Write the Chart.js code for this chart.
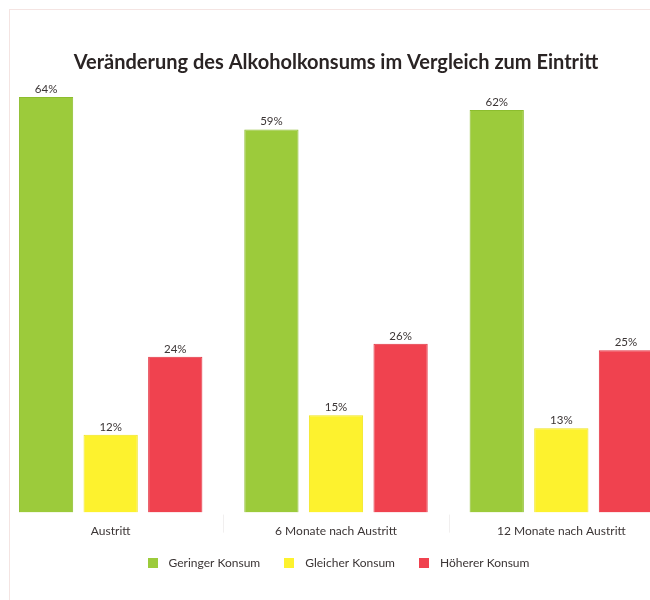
<!DOCTYPE html>
<html>
<head>
<meta charset="utf-8">
<title>Alkoholkonsum</title>
<script src="https://cdn.jsdelivr.net/npm/chart.js@4.4.1/dist/chart.umd.min.js"></script>
<style>
  html, body { margin: 0; padding: 0; background: #fff; overflow: hidden; }
  #frame { position: absolute; left: 9px; top: 9px; width: 660px; height: 600px;
           border-left: 1px solid #f4e4e2; border-top: 1px solid #f4e4e2; }
  #wrap { position: absolute; left: -2px; top: 0; width: 676px; height: 600px; }
</style>
</head>
<body>
<div id="frame"></div>
<div id="wrap"><canvas id="myChart"></canvas></div>

<script>
// chart data
const categories = ["Austritt", "6 Monate nach Austritt", "12 Monate nach Austritt"];
const seriesNames = ["Geringer Konsum", "Gleicher Konsum", "Höherer Konsum"];
const geringer = [64, 59, 62];
const gleicher = [12, 15, 13];
const hoeher = [24, 26, 25];

const colors = ["#9ccb3b", "#fdf22e", "#f0424f"];
const borders = ["#8cbd2e", "#f0e41e", "#e23442"];
const textColor = "#3b3535";
const fontName = "Lato, 'Open Sans', sans-serif";

// small square used as legend marker (keeps a gap before the text)
function legendBox(color) {
    let c = document.createElement("canvas");
    c.width = 10; c.height = 10;
    let g = c.getContext("2d");
    g.fillStyle = color;
    g.fillRect(0, 0, 10, 10);
    return c;
}
const legendBoxes = colors.map(legendBox);

// draws the percent labels above each bar + faint separators between categories
const valueLabels = {
    id: "valueLabels",
    afterDatasetsDraw(chart) {
        const ctx = chart.ctx;
        const xs = chart.scales.x;
        const bottom = chart.chartArea.bottom;
        ctx.save();
        ctx.strokeStyle = "rgba(120,100,100,0.10)";
        ctx.lineWidth = 1;
        for (let i = 0; i < categories.length - 1; i++) {
            let sx = Math.round((xs.getPixelForTick(i) + xs.getPixelForTick(i + 1)) / 2) + 0.5;
            ctx.beginPath();
            ctx.moveTo(sx, bottom + 2);
            ctx.lineTo(sx, bottom + 20);
            ctx.stroke();
        }
        ctx.font = "11.5px " + fontName;
        ctx.fillStyle = textColor;
        ctx.textAlign = "center";
        ctx.textBaseline = "bottom";
        chart.data.datasets.forEach((ds, i) => {
            chart.getDatasetMeta(i).data.forEach((bar, j) => {
                ctx.fillText(ds.data[j] + "%", bar.x, bar.y - 2);
            });
        });
        ctx.restore();
    }
};

const ctx = document.getElementById("myChart");
new Chart(ctx, {
    type: "bar",
    data: {
        labels: categories,
        datasets: [
            { label: seriesNames[0], data: geringer, backgroundColor: colors[0], borderColor: borders[0], borderWidth: 1 },
            { label: seriesNames[1], data: gleicher, backgroundColor: colors[1], borderColor: borders[1], borderWidth: 1 },
            { label: seriesNames[2], data: hoeher, backgroundColor: colors[2], borderColor: borders[2], borderWidth: 1 }
        ]
    },
    options: {
        responsive: true,
        maintainAspectRatio: false,
        animation: false,
        layout: { padding: { top: 0, bottom: 21, left: 0, right: 0 } },
        datasets: { bar: { categoryPercentage: 0.86, barPercentage: 0.84 } },
        scales: {
            x: {
                grid: { display: true, drawOnChartArea: false, drawTicks: true, tickLength: 11,
                        color: "rgba(0,0,0,0)" },
                border: { display: false },
                ticks: { padding: 0, color: textColor, font: { family: fontName, size: 12 } }
            },
            y: { display: false, min: 0, max: 64 }
        },
        plugins: {
            title: {
                display: true,
                text: "Veränderung des Alkoholkonsums im Vergleich zum Eintritt",
                color: "#2a2424",
                font: { family: fontName, size: 20, weight: "bold" },
                padding: { top: 51, bottom: 22 }
            },
            legend: {
                position: "bottom",
                labels: {
                    usePointStyle: true, pointStyleWidth: 20, boxHeight: 10,
                    padding: 19,
                    color: textColor,
                    font: { family: fontName, size: 12 },
                    generateLabels(chart) {
                        const items = Chart.defaults.plugins.legend.labels.generateLabels(chart);
                        items.forEach((it, i) => { it.pointStyle = legendBoxes[i]; });
                        return items;
                    }
                }
            },
            tooltip: { enabled: false }
        }
    },
    plugins: [valueLabels]
});
</script>
</body>
</html>
